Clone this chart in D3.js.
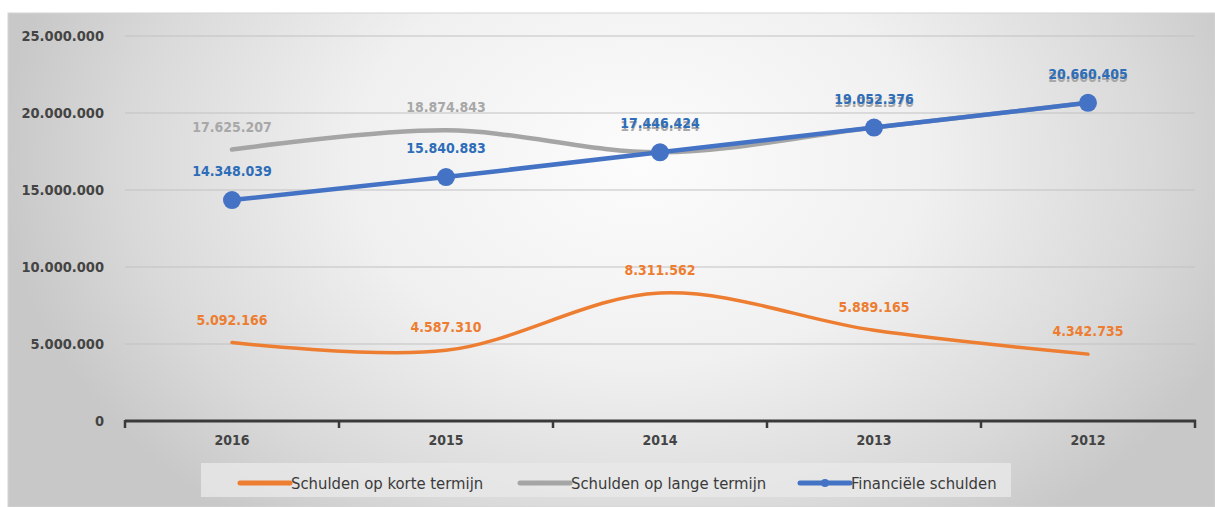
<!DOCTYPE html>
<html><head><meta charset="utf-8">
<script src="https://cdn.jsdelivr.net/npm/d3@7"></script>
<style>html,body{margin:0;padding:0;background:#fff;}svg{display:block;}</style>
</head><body>
<svg id="chart" width="1215" height="507"></svg>
<script>
const categories = ["2016","2015","2014","2013","2012"];
const korteTermijn = [5092166, 4587310, 8311562, 5889165, 4342735];
const langeTermijn = [17625207, 18874843, 17446424, 19052376, 20660405];
const financieleSchulden = [14348039, 15840883, 17446424, 19052376, 20660405];
const yTicks = [0, 5000000, 10000000, 15000000, 20000000, 25000000];
const seriesNames = ["Schulden op korte termijn","Schulden op lange termijn","Financiële schulden"];

const nl = d3.formatLocale({decimal:",", thousands:".", grouping:[3], currency:["€ ",""]});
const fmt = nl.format(",.0f");

const svg = d3.select("#chart");
const W = 1215, H = 507;
const FONT = "'DejaVu Sans Condensed','DejaVu Sans',sans-serif";

// background
const defs = svg.append("defs");
const rg = defs.append("radialGradient").attr("id","bg")
  .attr("gradientUnits","userSpaceOnUse").attr("cx",640).attr("cy",160).attr("r",640)
  .attr("gradientTransform","translate(640,160) scale(1,0.72) translate(-640,-160)");
rg.append("stop").attr("offset","0").attr("stop-color","#fcfcfc");
rg.append("stop").attr("offset","0.45").attr("stop-color","#f0f0f0");
rg.append("stop").attr("offset","0.8").attr("stop-color","#d9d9d9");
rg.append("stop").attr("offset","1").attr("stop-color","#c8c8c8");
svg.append("rect").attr("x",8).attr("y",13).attr("width",W-8).attr("height",H-13)
  .attr("fill","url(#bg)").attr("stroke","#d4d4d4").attr("stroke-width",1);

const x = d3.scaleBand().domain(categories).range([125,1195]).padding(0);
const y = d3.scaleLinear().domain([0,25000000]).range([421,36]);
const cx = c => x(c) + x.bandwidth()/2;

// gridlines
svg.append("g").selectAll("line").data(yTicks.filter(d=>d>0)).join("line")
  .attr("x1",125).attr("x2",1195).attr("y1",d=>y(d)).attr("y2",d=>y(d))
  .attr("stroke","#c2c2c2").attr("stroke-width",1.2);

// y axis labels
const yAxis = d3.axisLeft(y).tickValues(yTicks).tickSize(0).tickPadding(0).tickFormat(fmt);
const gy = svg.append("g").attr("transform","translate(104,0)").call(yAxis);
gy.select(".domain").remove();
gy.selectAll("text").attr("font-family",FONT).attr("font-size",14.5).attr("font-weight","bold").attr("fill","#444");

// x axis
const xAxis = d3.axisBottom(x).tickSize(0).tickPadding(14);
const gx = svg.append("g").attr("transform","translate(0,421)").call(xAxis);
gx.select(".domain").remove();
gx.selectAll("text").attr("font-family",FONT).attr("font-size",14).attr("font-weight","bold").attr("fill","#444");
svg.append("line").attr("x1",125).attr("x2",1196).attr("y1",421).attr("y2",421)
  .attr("stroke","#3a3a3a").attr("stroke-width",3);
const boundaries = categories.map(c=>x(c)).concat([x(categories[categories.length-1])+x.bandwidth()]);
svg.append("g").selectAll("line").data(boundaries).join("line")
  .attr("x1",d=>d).attr("x2",d=>d).attr("y1",420).attr("y2",428)
  .attr("stroke","#3a3a3a").attr("stroke-width",2.5);

// lines
const smooth = d3.line().x((d,i)=>cx(categories[i])).y(d=>y(d)).curve(d3.curveCatmullRom.alpha(0.5));
const straight = d3.line().x((d,i)=>cx(categories[i])).y(d=>y(d));

const colors = {korte:"#ED7D31", lange:"#A5A5A5", fin:"#4472C4"};

svg.append("path").attr("d",smooth(langeTermijn)).attr("fill","none")
  .attr("stroke",colors.lange).attr("stroke-width",4.5).attr("stroke-linecap","round");
svg.append("path").attr("d",smooth(korteTermijn)).attr("fill","none")
  .attr("stroke",colors.korte).attr("stroke-width",3.5).attr("stroke-linecap","round");
svg.append("path").attr("d",straight(financieleSchulden)).attr("fill","none")
  .attr("stroke",colors.fin).attr("stroke-width",4.5).attr("stroke-linecap","round");
svg.append("g").selectAll("circle").data(financieleSchulden).join("circle")
  .attr("cx",(d,i)=>cx(categories[i])).attr("cy",d=>y(d)).attr("r",9)
  .attr("fill","#4472C4");

// labels
function labels(data, color, dyFn){
  svg.append("g").selectAll("text").data(data).join("text")
    .attr("x",(d,i)=>cx(categories[i])).attr("y",(d,i)=>y(d)-dyFn(d,i))
    .attr("text-anchor","middle").attr("font-family",FONT).attr("font-size",14)
    .attr("font-weight","bold").attr("fill",color).text(d=>fmt(d));
}
labels(langeTermijn, "#A8A8A8", (d,i)=> d===financieleSchulden[i] ? 21 : 18);
labels(korteTermijn, "#ED7D31", ()=>18);
labels(financieleSchulden, "#2E6DB8", ()=>24);

// legend
const lg = svg.append("g");
lg.append("rect").attr("x",201).attr("y",463).attr("width",810).attr("height",34)
  .attr("fill","#e9e9e9").attr("opacity",0.8);
const legendItems = [
  {name:seriesNames[0], color:colors.korte, x:240, marker:false},
  {name:seriesNames[1], color:colors.lange, x:520, marker:false},
  {name:seriesNames[2], color:colors.fin, x:800, marker:true}
];
legendItems.forEach(it=>{
  lg.append("line").attr("x1",it.x).attr("x2",it.x+50).attr("y1",483).attr("y2",483)
    .attr("stroke",it.color).attr("stroke-width",5).attr("stroke-linecap","round");
  if(it.marker) lg.append("circle").attr("cx",it.x+25).attr("cy",483).attr("r",4).attr("fill",it.color);
  lg.append("text").attr("x",it.x+51).attr("y",489).attr("font-family",FONT).attr("font-size",16.5)
    .attr("fill","#3a3a3a").text(it.name);
});
</script>
</body></html>
